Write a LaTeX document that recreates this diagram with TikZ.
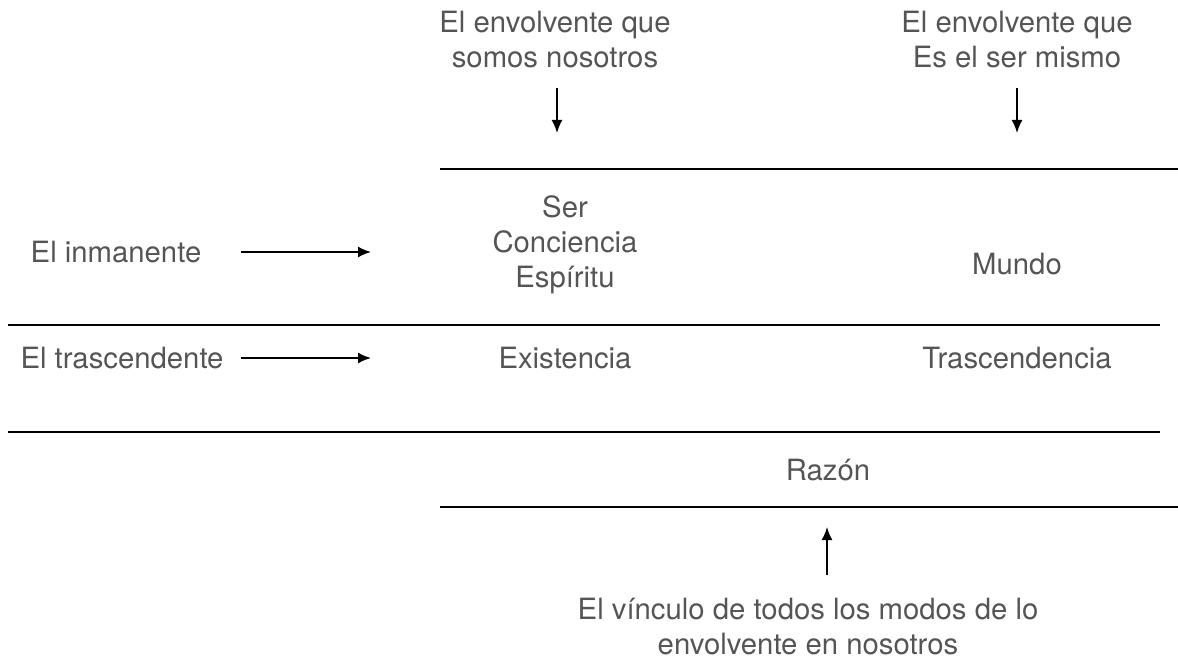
\documentclass[tikz,border=0pt]{standalone}
\usepackage{fontspec}
\setmainfont{TeX Gyre Heros}
\usetikzlibrary{arrows.meta}

\definecolor{txtgray}{HTML}{555555}

\tikzset{
	lbl/.style={text=txtgray,font=\fontsize{29.3}{35}\selectfont,align=center,inner sep=0pt},
	rule/.style={line width=1.7pt},
	pointer/.style={->,line width=1.8pt}
}

\begin{document}
\begin{tikzpicture}[>={Latex[length=13pt,width=11pt]},x=1pt,y=-1pt]

\useasboundingbox (0,0) rectangle (1178,660);

% horizontal rules
\draw[rule] (440,169)--(1178,169);
\draw[rule] (8,325)--(1160,325);
\draw[rule] (8,432)--(1160,432);
\draw[rule] (440,507)--(1178,507);

% labels on top
\node[lbl] (nos) at (555,40) {El envolvente que\\somos nosotros};
\node[lbl] (sermismo) at (1017,40) {El envolvente que\\Es el ser mismo};
\coordinate (nosend) at (557,133);
\coordinate (sermismoend) at (1017,133);
\draw[pointer] (557,88)--(nosend);
\draw[pointer] (1017,88)--(sermismoend);

% first row
\node[lbl] (inm) at (116,252) {El inmanente};
\node[lbl] (ser) at (565,245) {Ser\\Conciencia\\Espíritu};
\node[lbl] (mundo) at (1017,264) {Mundo};
\coordinate (inmend) at (371,252);
\draw[pointer] (241,252)--(inmend);

% second row
\node[lbl] (tras) at (122,358) {El trascendente};
\node[lbl] (exist) at (565,358) {Existencia};
\node[lbl] (trasc) at (1017,358) {Trascendencia};
\coordinate (trasend) at (371,358);
\draw[pointer] (241,358)--(trasend);

% bottom
\node[lbl] (razon) at (828,470) {Razón};
\node[lbl] (vinc) at (808,627) {El vínculo de todos los modos de lo\\envolvente en nosotros};
\coordinate (vincend) at (827,527);
\draw[pointer] (827,575)--(vincend);

\end{tikzpicture}
\end{document}
